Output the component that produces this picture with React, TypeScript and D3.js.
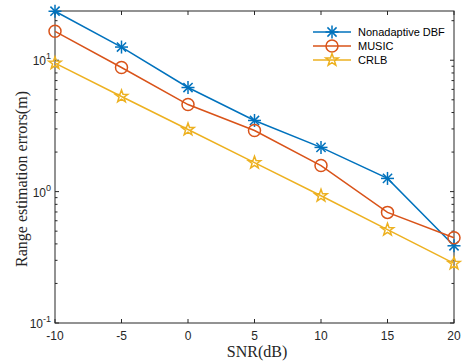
import React from "react";
import * as d3 from "d3";

const snr = [-10, -5, 0, 5, 10, 15, 20];
const dbf = [23.6, 12.6, 6.2, 3.48, 2.17, 1.26, 0.387];
const music = [16.6, 8.8, 4.6, 2.92, 1.58, 0.695, 0.446];
const crlb = [9.5, 5.3, 2.97, 1.66, 0.93, 0.513, 0.284];
const xTicks = [-10, -5, 0, 5, 10, 15, 20];
const yTicks = [0.1, 1, 10];
const yTickExp = ["-1", "0", "1"];
const seriesNames = ["Nonadaptive DBF", "MUSIC", "CRLB"];
const seriesColors = ["#0072BD", "#D95319", "#EDB120"];
const seriesMarkers = ["star", "circle", "pentagram"];

const W = 470, H = 364;
const L = 55, R = 454, T = 11, B = 323;

function Marker({ type, x, y, color }: { type: string; x: number; y: number; color: string }) {
  if (type === "circle") {
    return <circle cx={x} cy={y} r={6} fill="none" stroke={color} strokeWidth={1.5} />;
  }
  if (type === "star") {
    const r = 6.5;
    const lines = [0, 45, 90, 135].map((a) => {
      const rad = (a * Math.PI) / 180;
      return (
        <line key={a} x1={x - r * Math.cos(rad)} y1={y - r * Math.sin(rad)} x2={x + r * Math.cos(rad)} y2={y + r * Math.sin(rad)} stroke={color} strokeWidth={1.5} />
      );
    });
    return <g>{lines}</g>;
  }
  const pts: [number, number][] = [];
  const ro = 6.5, ri = 2.6;
  for (let i = 0; i < 10; i++) {
    const a = -Math.PI / 2 + (i * Math.PI) / 5;
    const r = i % 2 === 0 ? ro : ri;
    pts.push([x + r * Math.cos(a), y + r * Math.sin(a)]);
  }
  return <polygon points={pts.map((p) => p.join(",")).join(" ")} fill="none" stroke={color} strokeWidth={1.5} />;
}

export default function App() {
  const x = d3.scaleLinear().domain([-10, 20]).range([L, R]);
  const y = d3.scaleLog().domain([0.1, 23.7]).range([B, T]);
  const line = d3.line<number>().x((_, i) => x(snr[i])).y((d) => y(d));
  const data = [dbf, music, crlb];
  const minor: number[] = [];
  for (const dec of [0.1, 1, 10]) {
    for (let k = 2; k <= 9; k++) {
      const v = dec * k;
      if (v <= 23.7) minor.push(v);
    }
  }
  const ax = "#262626";
  return (
    <svg width={W} height={H} style={{ position: "absolute", left: 0, top: 0 }}>
      <rect x={0} y={0} width={W} height={H} fill="#fff" />
      <rect x={L} y={T} width={R - L} height={B - T} fill="#fff" stroke={ax} strokeWidth={1} />
      {xTicks.map((t) => (
        <g key={t}>
          <line x1={x(t)} x2={x(t)} y1={B} y2={B - 4} stroke={ax} />
          <line x1={x(t)} x2={x(t)} y1={T} y2={T + 4} stroke={ax} />
          <text x={x(t)} y={B + 17} textAnchor="middle" fontFamily="Liberation Sans, Arial" fontSize={12} fill={ax}>{t}</text>
        </g>
      ))}
      {yTicks.map((t, i) => (
        <g key={t}>
          <line x1={L} x2={L + 4} y1={y(t)} y2={y(t)} stroke={ax} />
          <line x1={R} x2={R - 4} y1={y(t)} y2={y(t)} stroke={ax} />
          <text x={L - 4} y={y(t) + 5} textAnchor="end" fontFamily="Liberation Sans, Arial" fontSize={12} fill={ax}>
            10<tspan dy={-6} fontSize={9}>{yTickExp[i]}</tspan>
          </text>
        </g>
      ))}
      {minor.map((t) => (
        <g key={"m" + t}>
          <line x1={L} x2={L + 2.5} y1={y(t)} y2={y(t)} stroke={ax} />
          <line x1={R} x2={R - 2.5} y1={y(t)} y2={y(t)} stroke={ax} />
        </g>
      ))}
      {data.map((d, si) => (
        <g key={si}>
          <path d={line(d) || ""} fill="none" stroke={seriesColors[si]} strokeWidth={1.5} />
          {d.map((v, i) => (
            <Marker key={i} type={seriesMarkers[si]} x={x(snr[i])} y={y(v)} color={seriesColors[si]} />
          ))}
        </g>
      ))}
      {seriesNames.map((n, i) => {
        const ly = 32 + i * 14;
        return (
          <g key={n}>
            <line x1={313} x2={351} y1={ly} y2={ly} stroke={seriesColors[i]} strokeWidth={1.5} />
            <Marker type={seriesMarkers[i]} x={332} y={ly} color={seriesColors[i]} />
            <text x={358} y={ly + 4} fontFamily="Liberation Sans, Arial" fontSize={11} fill="#000">{n}</text>
          </g>
        );
      })}
      <text x={257} y={357} textAnchor="middle" fontFamily="Liberation Serif, Times New Roman" fontSize={16} fill={ax}>SNR(dB)</text>
      <text transform={`translate(27,179) rotate(-90)`} textAnchor="middle" fontFamily="Liberation Serif, Times New Roman" fontSize={16} fill={ax}>Range estimation errors(m)</text>
    </svg>
  );
}
